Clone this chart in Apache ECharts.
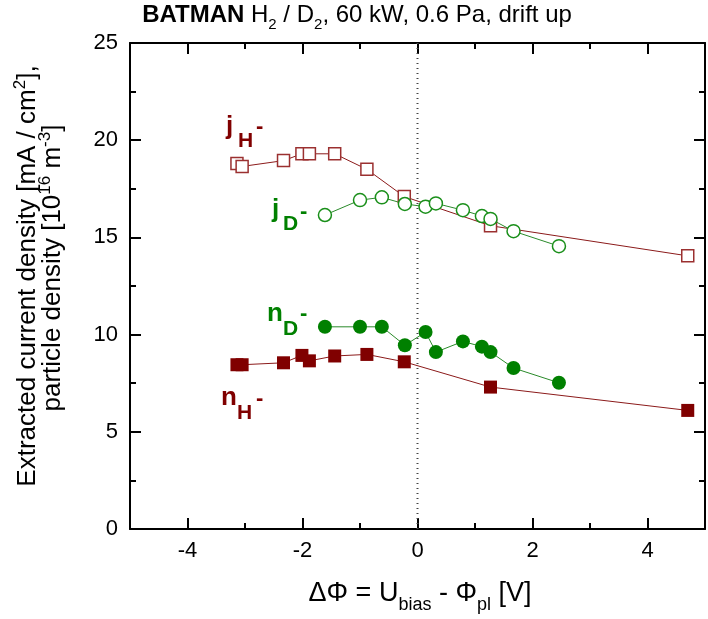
<!DOCTYPE html>
<html>
<head>
<meta charset="utf-8">
<script src="https://cdn.jsdelivr.net/npm/echarts@6/dist/echarts.min.js"></script>
<style>
html, body { margin: 0; padding: 0; background: #fff; }
#main { width: 708px; height: 619px; }
</style>
</head>
<body>
<div id="main"></div>
<script>
// bias voltage (x) for the H and D runs
var xH = [-3.14, -3.05, -2.33, -2.01, -1.88, -1.44, -0.88, -0.23, 1.27, 4.70];
var xD = [-1.61, -1.00, -0.62, -0.22, 0.14, 0.32, 0.79, 1.12, 1.27, 1.67, 2.46];

// extracted current density [mA/cm2]
var jH = [18.8, 18.65, 18.95, 19.3, 19.3, 19.3, 18.5, 17.1, 15.6, 14.05];
var jD = [16.15, 16.92, 17.06, 16.72, 16.58, 16.75, 16.4, 16.1, 15.95, 15.32, 14.55];

// particle density [1e16 m-3]
var nH = [8.45, 8.45, 8.55, 8.93, 8.65, 8.9, 8.98, 8.6, 7.3, 6.1];
var nD = [10.4, 10.4, 10.4, 9.45, 10.13, 9.1, 9.65, 9.38, 9.1, 8.28, 7.52];

// dotted reference line at zero bias
var zeroX = [0, 0];
var zeroY = [0, 25];

// tick positions
var xMajor = [-4, -2, 0, 2, 4];
var xMinor = [-5, -3, -1, 1, 3, 5];
var yMajor = [0, 5, 10, 15, 20, 25];
var yMinor = [2.5, 7.5, 12.5, 17.5, 22.5];

var FONT = '"Liberation Sans", Arial, sans-serif';
var RED = '#800000';
var GREEN = '#008000';

function pairs(xs, ys){
    var out = [];
    for(var i=0; i<xs.length; i++){
        out.push([xs[i], ys[i]]);
    }
    return out;
}

// one piece of a label, y given as baseline
function lbl(x, base, fs, txt, color){
    return {
        type: 'text',
        x: x,
        y: base - 0.31*fs,
        style: {
            text: txt,
            fill: color,
            font: 'bold ' + fs + 'px ' + FONT,
            align: 'left',
            verticalAlign: 'middle'
        }
    };
}

var chart = echarts.init(document.getElementById('main'));

function xAxisDef(pos, labels){
    return {
        type: 'value', position: pos, min: -5, max: 5, interval: 1,
        axisLine: {show: true, onZero: false, lineStyle: {color: '#000', width: 2}},
        axisTick: {show: true, inside: true, length: 6, lineStyle: {color: '#000', width: 2}},
        axisLabel: labels ? {
            show: true, color: '#000', fontSize: 22, fontFamily: FONT, margin: 11,
            formatter: function(v){ return v % 2 === 0 ? String(v) : ''; }
        } : {show: false},
        splitLine: {show: false}
    };
}

// second axis on the same side, only for the longer major ticks
function xMajorDef(pos){
    return {
        type: 'value', position: pos, min: -5, max: 5, interval: 1,
        axisLine: {show: false, onZero: false},
        axisTick: {show: true, inside: true, length: 11, customValues: xMajor, lineStyle: {color: '#000', width: 2}},
        axisLabel: {show: false},
        splitLine: {show: false}
    };
}

function yAxisDef(pos, labels){
    return {
        type: 'value', position: pos, min: 0, max: 25, interval: 5,
        axisLine: {show: true, onZero: false, lineStyle: {color: '#000', width: 2}},
        axisTick: {show: true, inside: true, length: 11, lineStyle: {color: '#000', width: 2}},
        minorTick: {show: true, splitNumber: 2, length: 6, lineStyle: {color: '#000', width: 2}},
        axisLabel: labels ? {show: true, color: '#000', fontSize: 22, fontFamily: FONT, margin: 12} : {show: false},
        splitLine: {show: false}
    };
}

var texts = [
    // title
    {
        type: 'text',
        x: 357, y: 3,
        style: {
            text: '{b|BATMAN}{r| H}{s|2}{r| / D}{s|2}{r|, 60 kW, 0.6 Pa, drift up}',
            align: 'center',
            verticalAlign: 'top',
            rich: {
                b: {fontSize: 24, fontWeight: 'bold', fontFamily: FONT, color: '#000', lineHeight: 29, verticalAlign: 'top'},
                r: {fontSize: 24, fontFamily: FONT, color: '#000', lineHeight: 29, verticalAlign: 'top'},
                s: {fontSize: 15, fontFamily: FONT, color: '#000', lineHeight: 15, verticalAlign: 'bottom'}
            }
        }
    },
    // x axis title
    {
        type: 'text',
        x: 420, y: 580,
        style: {
            text: '{r|\u0394\u03a6 = U}{s|bias}{r| - \u03a6}{s|pl}{r| [V]}',
            align: 'center',
            verticalAlign: 'top',
            rich: {
                r: {fontSize: 27, fontFamily: FONT, color: '#000', lineHeight: 34, verticalAlign: 'top'},
                s: {fontSize: 18, fontFamily: FONT, color: '#000', lineHeight: 18, verticalAlign: 'bottom'}
            }
        }
    },
    // y axis title, two lines
    {
        type: 'text',
        x: 28, y: 276,
        rotation: Math.PI/2,
        style: {
            text: '{r|Extracted current density [mA / cm}{p|2}{r|],}',
            align: 'center',
            verticalAlign: 'middle',
            rich: {
                r: {fontSize: 26, fontFamily: FONT, color: '#000', lineHeight: 32, verticalAlign: 'middle'},
                p: {fontSize: 17, fontFamily: FONT, color: '#000', lineHeight: 17, verticalAlign: 'top'}
            }
        }
    },
    {
        type: 'text',
        x: 53, y: 268,
        rotation: Math.PI/2,
        style: {
            text: '{r|particle density [10}{p|16}{r| m}{p|-3}{r|]}',
            align: 'center',
            verticalAlign: 'middle',
            rich: {
                r: {fontSize: 26, fontFamily: FONT, color: '#000', lineHeight: 32, verticalAlign: 'middle'},
                p: {fontSize: 17, fontFamily: FONT, color: '#000', lineHeight: 17, verticalAlign: 'top'}
            }
        }
    },
    // series labels
    lbl(226, 135, 26, 'j', RED), lbl(238, 148, 21, 'H', RED), lbl(256, 134, 22, '-', RED),
    lbl(221, 406, 26, 'n', RED), lbl(237, 420, 21, 'H', RED), lbl(256, 406, 22, '-', RED),
    lbl(272, 218, 26, 'j', GREEN), lbl(283, 231, 21, 'D', GREEN), lbl(300, 219, 22, '-', GREEN),
    lbl(267, 322, 26, 'n', GREEN), lbl(283, 336, 21, 'D', GREEN), lbl(300, 321, 22, '-', GREEN)
];

var option = {
    animation: false,
    grid: {left: 130, right: -1, top: 43, bottom: 90},
    xAxis: [xAxisDef('bottom', true), xMajorDef('bottom'), xAxisDef('top', false), xMajorDef('top')],
    yAxis: [yAxisDef('left', true), yAxisDef('right', false)],
    series: [
        {
            name: 'zero',
            type: 'line',
            data: pairs(zeroX, zeroY),
            symbol: 'none',
            silent: true,
            lineStyle: {type: [1, 4], color: '#444', width: 2}
        },
        {
            name: 'jH',
            type: 'line',
            data: pairs(xH, jH),
            symbol: 'rect',
            symbolSize: 12,
            lineStyle: {color: '#8b1a1a', width: 1},
            itemStyle: {color: '#fff', borderColor: '#9b3030', borderWidth: 1.5}
        },
        {
            name: 'nH',
            type: 'line',
            data: pairs(xH, nH),
            symbol: 'rect',
            symbolSize: 13,
            lineStyle: {color: '#8b1a1a', width: 1},
            itemStyle: {color: RED}
        },
        {
            name: 'jD',
            type: 'line',
            data: pairs(xD, jD),
            symbol: 'circle',
            symbolSize: 13,
            lineStyle: {color: '#2a8a2a', width: 1},
            itemStyle: {color: '#fff', borderColor: '#1a8f1a', borderWidth: 1.5}
        },
        {
            name: 'nD',
            type: 'line',
            data: pairs(xD, nD),
            symbol: 'circle',
            symbolSize: 14,
            lineStyle: {color: '#2a8a2a', width: 1},
            itemStyle: {color: GREEN}
        }
    ],
    graphic: texts
};

chart.setOption(option);

// the inside ticks sometimes do not get painted; check one and, if it is missing,
// draw all frame ticks from the axis scales instead
(function(){
    var px = function(v){ return chart.convertToPixel({xAxisIndex: 0}, v); };
    var py = function(v){ return chart.convertToPixel({yAxisIndex: 0}, v); };
    var left = px(-5), right = px(5), top = py(25), bottom = py(0);
    var ctx = chart.getDom().getElementsByTagName('canvas')[0].getContext('2d');
    var x0 = Math.round(px(-4)), found = false;
    for(var dx=-1; dx<=1; dx++){
        var p = ctx.getImageData(x0 + dx, Math.round(bottom) - 5, 1, 1).data;
        if(p[3] > 150 && p[0] < 110 && p[1] < 110 && p[2] < 110){ found = true; }
    }
    if(found){ return; }
    var ticks = [];
    var seg = function(x1, y1, x2, y2){
        ticks.push({type: 'line', silent: true, z: 10,
            shape: {x1: x1, y1: y1, x2: x2, y2: y2},
            style: {stroke: '#000', lineWidth: 2}});
    };
    var addX = function(vals, len){
        for(var i=0; i<vals.length; i++){
            var x = px(vals[i]);
            seg(x, bottom, x, bottom - len);
            seg(x, top, x, top + len);
        }
    };
    var addY = function(vals, len){
        for(var i=0; i<vals.length; i++){
            var y = py(vals[i]);
            seg(left, y, left + len, y);
            seg(right, y, right - len, y);
        }
    };
    addX(xMajor, 11); addX(xMinor, 6);
    addY(yMajor, 11); addY(yMinor, 6);
    chart.setOption({graphic: texts.concat(ticks)});
})();
</script>
</body>
</html>
